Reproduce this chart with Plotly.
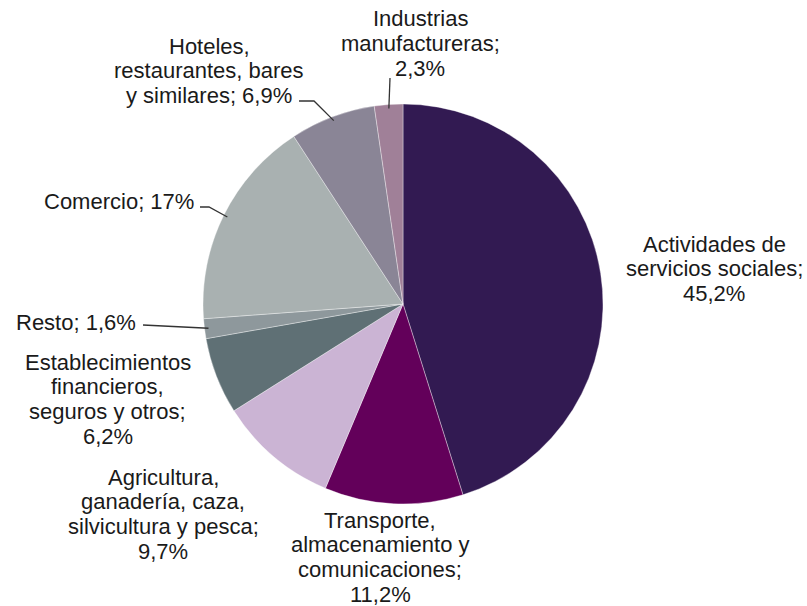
import math
import plotly.graph_objects as go

# ---- data ----
categories = [
    "Actividades de servicios sociales",
    "Transporte, almacenamiento y comunicaciones",
    "Agricultura, ganadería, caza, silvicultura y pesca",
    "Establecimientos financieros, seguros y otros",
    "Resto",
    "Comercio",
    "Hoteles, restaurantes, bares y similares",
    "Industrias manufactureras",
]
values = [45.2, 11.2, 9.7, 6.2, 1.6, 17.0, 6.9, 2.3]
label_lines = [
    ["Actividades de", "servicios sociales;", "45,2%"],
    ["Transporte,", "almacenamiento y", "comunicaciones;", "11,2%"],
    ["Agricultura,", "ganadería, caza,", "silvicultura y pesca;", "9,7%"],
    ["Establecimientos", "financieros,", "seguros y otros;", "6,2%"],
    ["Resto; 1,6%"],
    ["Comercio; 17%"],
    ["Hoteles,", "restaurantes, bares", "y similares; 6,9%"],
    ["Industrias", "manufactureras;", "2,3%"],
]
colors = ["#321a52", "#63005a", "#cbb4d4", "#5f7075", "#8e989c", "#a9b1b1", "#8a8596", "#a08098"]

# ---- layout geometry (pixels) ----
W, H = 807, 606
CX, CY, R = 403, 304, 200
LINE_H = 24.8
FONT = dict(family="Liberation Sans, Arial, sans-serif", size=22, color="#1a1a1a")

def px(x):
    return x / W

def py(y):
    return 1 - y / H

# label placement: (x, y of first line, xanchor) in pixels
label_pos = [
    (714, 244, "center"),
    (380, 520, "center"),
    (163, 477, "center"),
    (108, 362, "center"),
    (138, 322, "right"),
    (196, 201, "right"),
    (209, 46, "center"),
    (420, 19, "center"),
]
# leader paths: intermediate points from label side toward slice (None = no leader)
leaders = [
    None,
    None,
    None,
    None,
    [(143, 325)],
    [(200, 207), (209, 207)],
    [(299, 101), (314, 101)],
    [(390, 78)],
]

total = sum(values)
mid_angles = []
cum = 0.0
for v in values:
    mid_angles.append((cum + v / 2) / total * 2 * math.pi)
    cum += v

fig = go.Figure(
    go.Pie(
        labels=categories,
        values=values,
        sort=False,
        direction="clockwise",
        rotation=0,
        marker=dict(colors=colors, line=dict(color="rgba(255,255,255,0.6)", width=0.6)),
        textinfo="none",
        hoverinfo="label+percent",
        showlegend=False,
        domain=dict(x=[px(CX - R), px(CX + R)], y=[py(CY + R), py(CY - R)]),
    )
)

annotations = []
shapes = []
for i, lines in enumerate(label_lines):
    lx, ly, anchor = label_pos[i]
    for k, line in enumerate(lines):
        annotations.append(
            dict(
                x=px(lx), y=py(ly + k * LINE_H), xref="paper", yref="paper",
                text=line, showarrow=False, xanchor=anchor, yanchor="middle",
                align="center", font=FONT,
            )
        )
    if leaders[i]:
        a = mid_angles[i]
        ex = CX + (R - 4) * math.sin(a)
        ey = CY - (R - 4) * math.cos(a)
        pts = leaders[i] + [(ex, ey)]
        path = "M " + " L ".join(f"{px(x):.5f},{py(y):.5f}" for x, y in pts)
        shapes.append(
            dict(type="path", xref="paper", yref="paper", path=path,
                 line=dict(color="#333333", width=1.3))
        )

fig.update_layout(
    width=W, height=H,
    margin=dict(l=0, r=0, t=0, b=0),
    paper_bgcolor="white",
    plot_bgcolor="white",
    annotations=annotations,
    shapes=shapes,
)

fig.write_html(
    "out.html",
    config={"displayModeBar": False},
    post_script="document.body.style.margin='0';document.body.style.padding='0';",
)
